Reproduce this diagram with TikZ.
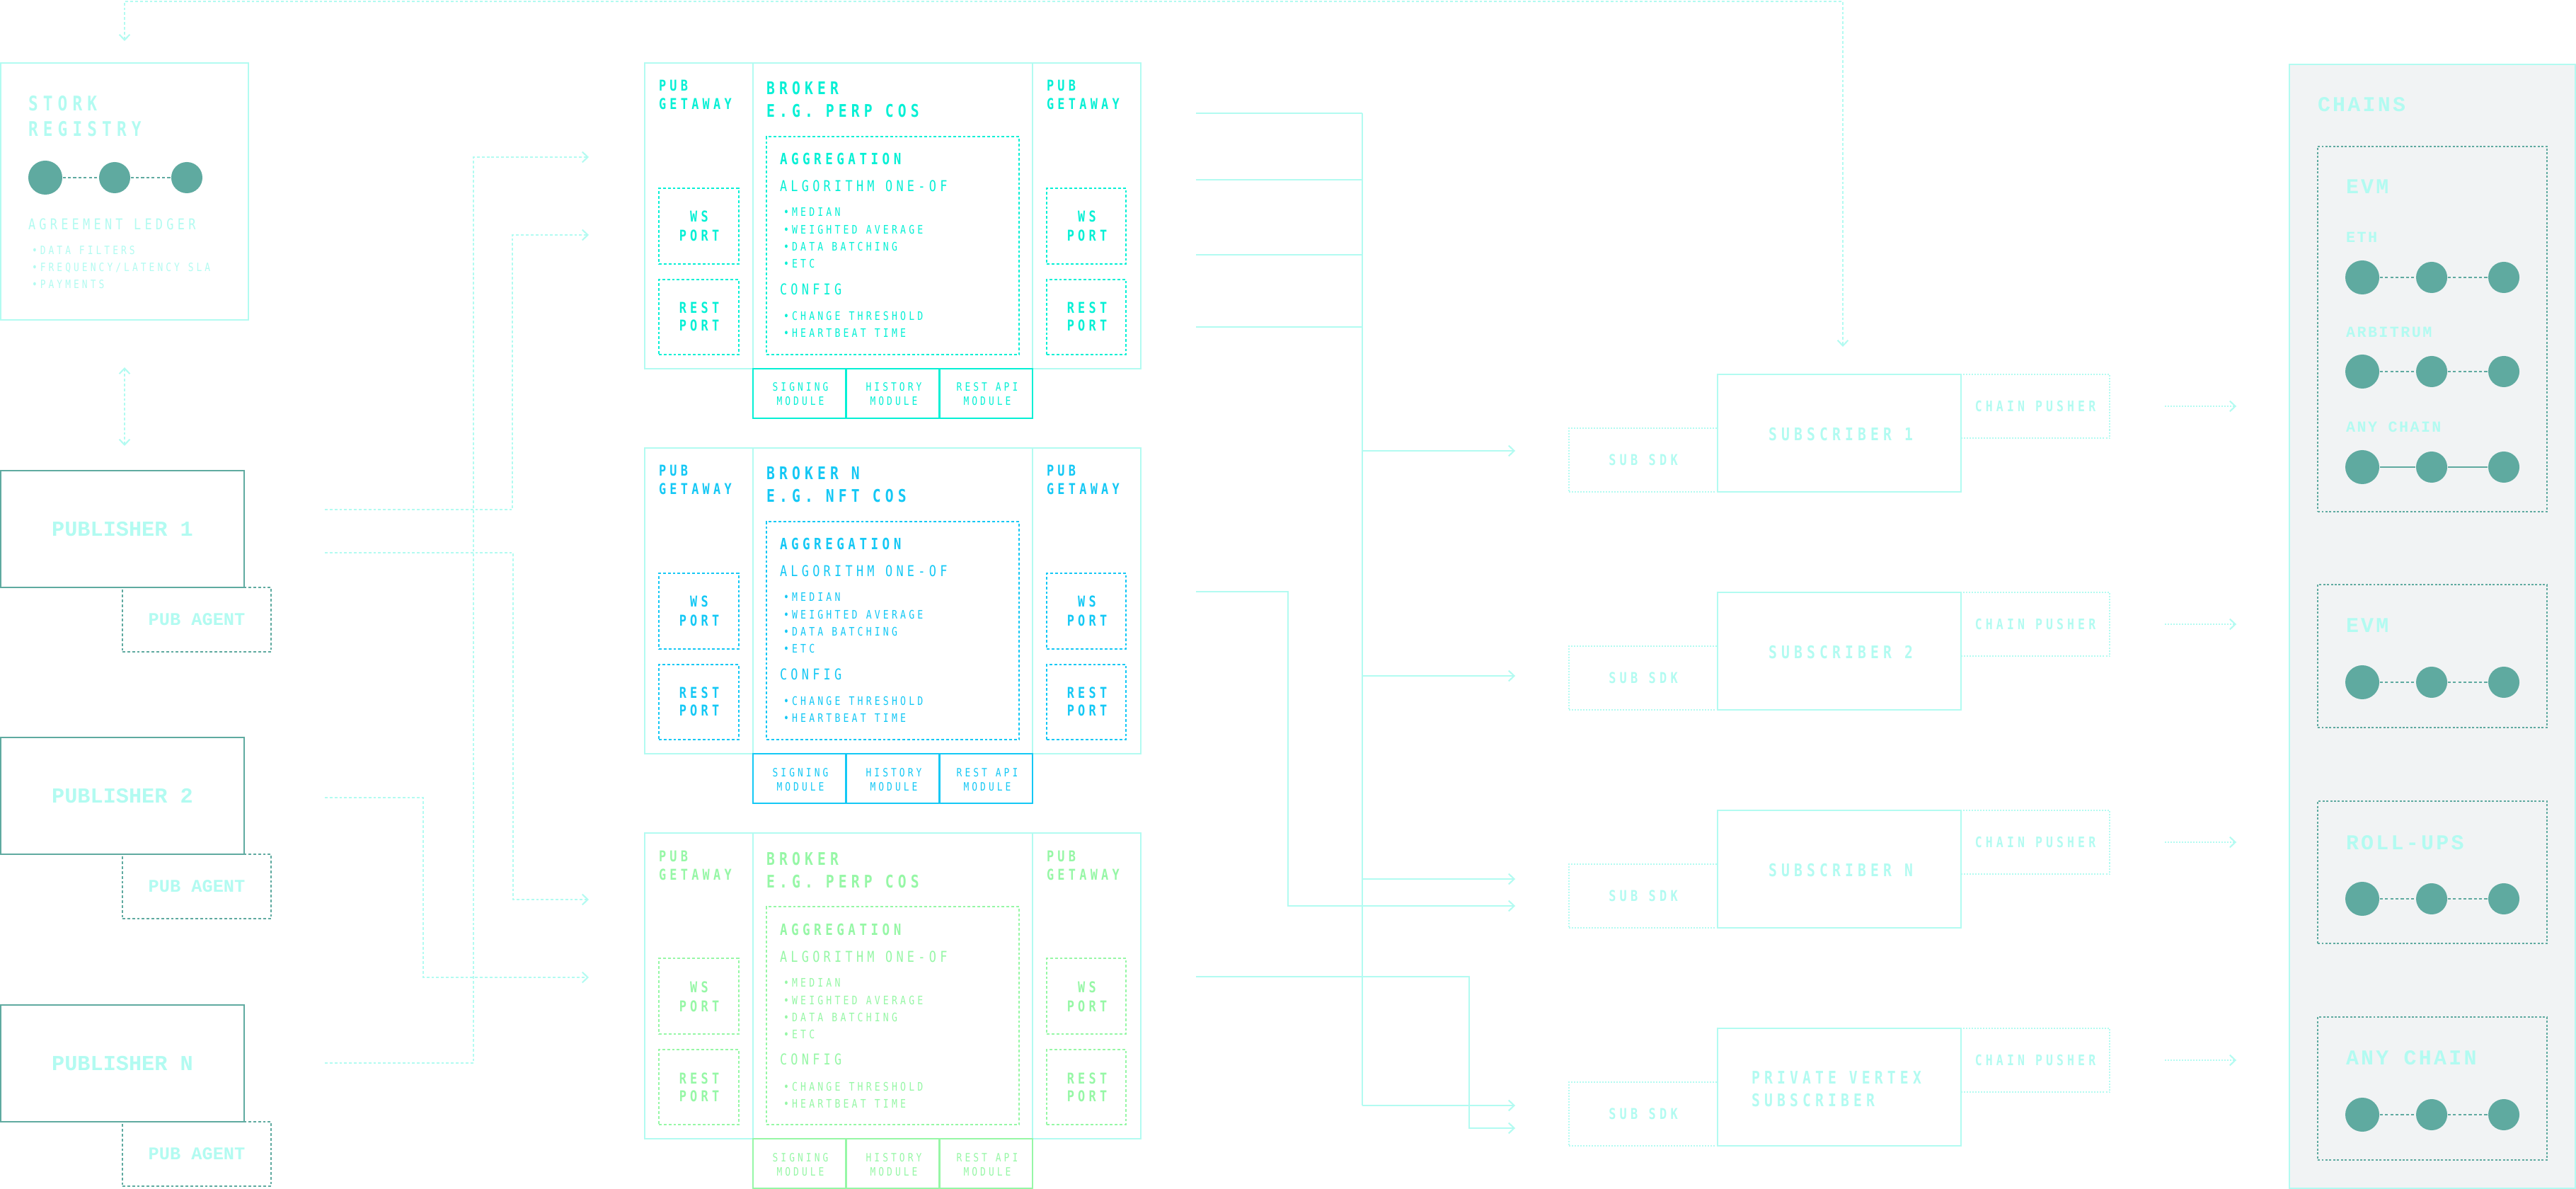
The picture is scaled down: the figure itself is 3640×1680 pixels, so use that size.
\documentclass[tikz,border=0pt]{standalone}
\usepackage{fontspec}
\usetikzlibrary{arrows.meta,fit}
\newfontfamily\cnd[FakeStretch=0.8,LetterSpace=25]{DejaVu Sans Mono}
\newfontfamily\wmono{Liberation Mono}
\newfontfamily\wmonols[LetterSpace=11]{Liberation Mono}
\newcommand\myfs[1]{\fontsize{#1}{#1}\selectfont}
\newcommand\bul{•\kern0.25em}
\definecolor{lc}{HTML}{B2FBF1}
\definecolor{tl}{HTML}{5FAAA0}
\definecolor{bA}{HTML}{05F0D5}
\definecolor{bB}{HTML}{14C8F5}
\definecolor{bC}{HTML}{96F7A6}
\definecolor{gp}{HTML}{F1F3F4}
\begin{document}
\begin{tikzpicture}[x=0.01cm,y=-0.01cm,
 bx/.style={draw=#1,line width=0.57pt,inner sep=0pt,outer sep=0pt},
 dbx/.style={bx=#1,dash pattern=on 1.1pt off 0.85pt},
 obx/.style={bx=#1,dash pattern=on 0.57pt off 0.57pt},
 tx/.style={inner sep=0pt,outer sep=0pt,anchor=base west,text=#1},
 tc/.style={inner sep=0pt,outer sep=0pt,anchor=base,text=#1},
 tm/.style={inner sep=0pt,outer sep=0pt,anchor=center,text=#1},
 wire/.style={draw=lc,line width=0.57pt},
 dwire/.style={wire,dash pattern=on 1.1pt off 0.85pt},
 owire/.style={wire,dash pattern=on 0.57pt off 0.57pt},
 arr/.style={-{Straight Barb[length=2.2pt,width=4.2pt]}},
 arrb/.style={{Straight Barb[length=2.2pt,width=4.2pt]}-{Straight Barb[length=2.2pt,width=4.2pt]}},
 chdot/.style={circle,fill=tl,inner sep=0pt,minimum size=#1},
 tlink/.style={draw=tl,line width=0.6pt,dash pattern=on 1.2pt off 0.9pt},
 tlinks/.style={draw=tl,line width=0.6pt},
 chbox/.style={draw=tl,line width=0.57pt,inner sep=0pt,dash pattern=on 0.85pt off 0.7pt},
]
\fill[white] (0,0) rectangle (3640,1680);
\useasboundingbox (0,0) rectangle (3640,1680);

% ---------------- registry ----------------
\node[bx=lc,fit={(1,89)(351,452)}] (reg) {};
\node[tx=lc,font=\cnd\bfseries\myfs{8.1}] (regt1) at (40,157) {STORK};
\node[tx=lc,font=\cnd\bfseries\myfs{8.1}] (regt2) at (40,193) {REGISTRY};
\node[chdot=0.48cm] (rc1) at (64,251) {};
\node[chdot=0.44cm] (rc2) at (162,251) {};
\node[chdot=0.44cm] (rc3) at (264,251) {};
\draw[tlink] (rc1) -- (rc2) -- (rc3);
\node[tx=lc,font=\cnd\myfs{6}] (regl) at (40,325) {AGREEMENT LEDGER};
\node[tx=lc,font=\cnd\myfs{4.6}] (regb1) at (45,360) {\bul DATA FILTERS};
\node[tx=lc,font=\cnd\myfs{4.6}] (regb2) at (45,384) {\bul FREQUENCY/LATENCY SLA};
\node[tx=lc,font=\cnd\myfs{4.6}] (regb3) at (45,408) {\bul PAYMENTS};

% top loop connector
\coordinate (tA) at (176,58);
\coordinate (tB) at (2604,490);
\draw[dwire,arrb] (tA) -- (176,2) -- (2604,2) -- (tB);
% registry <-> publisher
\coordinate (rpA) at (176,519);
\coordinate (rpB) at (176,630);
\draw[dwire,arrb] (rpA) -- (rpB);

% ---------------- publishers ----------------
\foreach \i/\T/\nm in {1/665/PUBLISHER 1,2/1042/PUBLISHER 2,3/1420/PUBLISHER N}{
  \node[dbx=tl,fit={(173,\T+165)(383,\T+256)}] (ag\i) {};
  \node[bx=tl,fit={(1,\T)(345,\T+165)}] (pub\i) {};
  \node[tm=lc,font=\wmono\bfseries\myfs{8.6}] (pubt\i) at (pub\i.center) {\nm};
  \node[tm=lc,font=\wmono\bfseries\myfs{7.2}] (agt\i) at (ag\i.center) {PUB AGENT};
}

% publisher -> broker connectors
\coordinate (q1s) at (459,720);  \coordinate (q1e) at (832,332);
\coordinate (q2s) at (459,781);  \coordinate (q2e) at (832,1271);
\coordinate (q3s) at (459,1127); \coordinate (q3e) at (832,1381);
\coordinate (q4s) at (459,1502); \coordinate (q4e) at (832,222);
\draw[dwire,arr] (q1s) -- (724,720) -- (724,332) -- (q1e);
\draw[dwire,arr] (q2s) -- (725,781) -- (725,1271) -- (q2e);
\draw[dwire,arr] (q3s) -- (598,1127) -- (598,1381) -- (q3e);
\draw[dwire,arr] (q4s) -- (669,1502) -- (669,222) -- (q4e);

% ---------------- brokers ----------------
\foreach \i/\dy/\col/\ta/\tb in {1/0/bA/BROKER/E.G. PERP COS,2/544/bB/BROKER N/E.G. NFT COS,3/1088/bC/BROKER/E.G. PERP COS}{
  \node[bx=lc,fit={(911,89+\dy)(1612,521+\dy)}] (br\i) {};
  \draw[lc,line width=0.57pt] (1064,89+\dy) -- (1064,521+\dy) (1459,89+\dy) -- (1459,521+\dy);
  \node[bx=\col,line width=0.8pt,fit={(1064,521+\dy)(1459,591+\dy)}] (mod\i) {};
  \draw[\col,line width=0.8pt] (1195.7,521+\dy) -- (1195.7,591+\dy) (1327.3,521+\dy) -- (1327.3,591+\dy);
  % gateways
  \node[tx=\col,font=\cnd\bfseries\myfs{6}] (pgla\i) at (931,129+\dy) {PUB};
  \node[tx=\col,font=\cnd\bfseries\myfs{6}] (pglb\i) at (931,155+\dy) {GETAWAY};
  \node[tx=\col,font=\cnd\bfseries\myfs{6}] (pgra\i) at (1479,129+\dy) {PUB};
  \node[tx=\col,font=\cnd\bfseries\myfs{6}] (pgrb\i) at (1479,155+\dy) {GETAWAY};
  % ports
  \node[dbx=\col,fit={(931,266+\dy)(1043.5,373+\dy)}] (wsl\i) {};
  \node[dbx=\col,fit={(931,395+\dy)(1043.5,501+\dy)}] (rsl\i) {};
  \node[dbx=\col,fit={(1479,266+\dy)(1591,373+\dy)}] (wsr\i) {};
  \node[dbx=\col,fit={(1479,395+\dy)(1591,501+\dy)}] (rsr\i) {};
  \node[tc=\col,font=\cnd\bfseries\myfs{6}] (wsla\i) at (988,314+\dy) {WS};
  \node[tc=\col,font=\cnd\bfseries\myfs{6}] (wslb\i) at (988,341+\dy) {PORT};
  \node[tc=\col,font=\cnd\bfseries\myfs{6}] (rsla\i) at (988,443+\dy) {REST};
  \node[tc=\col,font=\cnd\bfseries\myfs{6}] (rslb\i) at (988,468+\dy) {PORT};
  \node[tc=\col,font=\cnd\bfseries\myfs{6}] (wsra\i) at (1536,314+\dy) {WS};
  \node[tc=\col,font=\cnd\bfseries\myfs{6}] (wsrb\i) at (1536,341+\dy) {PORT};
  \node[tc=\col,font=\cnd\bfseries\myfs{6}] (rsra\i) at (1536,443+\dy) {REST};
  \node[tc=\col,font=\cnd\bfseries\myfs{6}] (rsrb\i) at (1536,468+\dy) {PORT};
  % title
  \node[tx=\col,font=\cnd\bfseries\myfs{7}] (bta\i) at (1083,134+\dy) {\ta};
  \node[tx=\col,font=\cnd\bfseries\myfs{7}] (btb\i) at (1083,166+\dy) {\tb};
  % aggregation
  \node[dbx=\col,fit={(1083,193+\dy)(1440,501+\dy)}] (agg\i) {};
  \node[tx=\col,font=\cnd\bfseries\myfs{6.25}] (agga\i) at (1102,233+\dy) {AGGREGATION};
  \node[tx=\col,font=\cnd\myfs{6}] (aggb\i) at (1102,271+\dy) {ALGORITHM ONE-OF};
  \node[tx=\col,font=\cnd\myfs{4.7}] (aggc\i) at (1107,306+\dy) {\bul MEDIAN};
  \node[tx=\col,font=\cnd\myfs{4.7}] (aggd\i) at (1107,331+\dy) {\bul WEIGHTED AVERAGE};
  \node[tx=\col,font=\cnd\myfs{4.7}] (agge\i) at (1107,355+\dy) {\bul DATA BATCHING};
  \node[tx=\col,font=\cnd\myfs{4.7}] (aggf\i) at (1107,379+\dy) {\bul ETC};
  \node[tx=\col,font=\cnd\myfs{6}] (aggg\i) at (1102,416.5+\dy) {CONFIG};
  \node[tx=\col,font=\cnd\myfs{4.7}] (aggh\i) at (1107,453+\dy) {\bul CHANGE THRESHOLD};
  \node[tx=\col,font=\cnd\myfs{4.7}] (aggi\i) at (1107,477+\dy) {\bul HEARTBEAT TIME};
  % modules
  \node[tc=\col,font=\cnd\myfs{4.6}] (mda\i) at (1131,553+\dy) {SIGNING};
  \node[tc=\col,font=\cnd\myfs{4.6}] (mdb\i) at (1131,573+\dy) {MODULE};
  \node[tc=\col,font=\cnd\myfs{4.6}] (mdc\i) at (1263,553+\dy) {HISTORY};
  \node[tc=\col,font=\cnd\myfs{4.6}] (mdd\i) at (1263,573+\dy) {MODULE};
  \node[tc=\col,font=\cnd\myfs{4.6}] (mde\i) at (1395,553+\dy) {REST API};
  \node[tc=\col,font=\cnd\myfs{4.6}] (mdf\i) at (1395,573+\dy) {MODULE};
}

% ---------------- broker -> subscriber wires ----------------
\coordinate (w1) at (1690,160);
\coordinate (w2) at (1690,254);
\coordinate (w3) at (1690,360);
\coordinate (w4) at (1690,462);
\draw[wire] (w1) -- (1925,160);
\draw[wire] (w2) -- (1925,254);
\draw[wire] (w3) -- (1925,360);
\draw[wire] (w4) -- (1925,462);
\draw[wire] (1925,160) -- (1925,1562);
\coordinate (e1) at (2141,637);
\coordinate (e2) at (2141,955);
\coordinate (e3) at (2141,1242);
\coordinate (e4) at (2141,1562);
\draw[wire,arr] (1925,637) -- (e1);
\draw[wire,arr] (1925,955) -- (e2);
\draw[wire,arr] (1925,1242) -- (e3);
\draw[wire,arr] (1925,1562) -- (e4);
\coordinate (w5) at (1690,836);
\coordinate (e5) at (2141,1280);
\draw[wire,arr] (w5) -- (1820,836) -- (1820,1280) -- (e5);
\coordinate (w6) at (1690,1380);
\coordinate (e6) at (2141,1594);
\draw[wire,arr] (w6) -- (2076,1380) -- (2076,1594) -- (e6);

% ---------------- subscribers ----------------
\foreach \j/\T in {1/529,2/837,3/1145,4/1453}{
  \node[obx=lc,fit={(2217,\T+76)(2427,\T+166)}] (sdk\j) {};
  \node[obx=lc,fit={(2771,\T)(2981,\T+90)}] (cp\j) {};
  \node[bx=lc,fit={(2427,\T)(2771,\T+166)}] (sub\j) {};
  \node[tm=lc,font=\cnd\bfseries\myfs{6}] (sdkt\j) at (sdk\j.center) {SUB SDK};
  \node[tm=lc,font=\cnd\bfseries\myfs{5.85}] (cpt\j) at (cp\j.center) {CHAIN PUSHER};
  \coordinate (cpa\j) at (3059,\T+45);
  \coordinate (cpb\j) at (3160,\T+45);
  \draw[owire,arr] (cpa\j) -- (cpb\j);
}
\node[tm=lc,font=\cnd\bfseries\myfs{7}] (subt1) at (2601,614) {SUBSCRIBER 1};
\node[tm=lc,font=\cnd\bfseries\myfs{7}] (subt2) at (2601,922) {SUBSCRIBER 2};
\node[tm=lc,font=\cnd\bfseries\myfs{7}] (subt3) at (2601,1230) {SUBSCRIBER N};
\node[tx=lc,font=\cnd\bfseries\myfs{7}] (subt4a) at (2475,1531) {PRIVATE VERTEX};
\node[tx=lc,font=\cnd\bfseries\myfs{7}] (subt4b) at (2475,1563) {SUBSCRIBER};

% ---------------- chains ----------------
\node[draw=lc,fill=gp,line width=0.57pt,inner sep=0pt,fit={(3235,91)(3639,1679)}] (chains) {};
\node[tx=lc,font=\wmonols\bfseries\myfs{8.5}] (cht) at (3275,158) {CHAINS};
\node[chbox,fit={(3275,207)(3599,723)}] (evm1) {};
\node[chbox,fit={(3275,826)(3599,1028)}] (evm2) {};
\node[chbox,fit={(3275,1132)(3599,1333)}] (rup) {};
\node[chbox,fit={(3275,1437)(3599,1639)}] (anyc) {};
\node[tx=lc,font=\wmonols\bfseries\myfs{8.5}] (evm1t) at (3315,274) {EVM};
\node[tx=lc,font=\wmonols\bfseries\myfs{6.2}] (etht) at (3315,343) {ETH};
\node[tx=lc,font=\wmonols\bfseries\myfs{6.2}] (arbt) at (3315,477) {ARBITRUM};
\node[tx=lc,font=\wmonols\bfseries\myfs{6.2}] (anyt) at (3315,611) {ANY CHAIN};
\node[tx=lc,font=\wmonols\bfseries\myfs{8.5}] (evm2t) at (3315,894) {EVM};
\node[tx=lc,font=\wmonols\bfseries\myfs{8.5}] (rupt) at (3315,1200) {ROLL-UPS};
\node[tx=lc,font=\wmonols\bfseries\myfs{8.5}] (anyct) at (3315,1504) {ANY CHAIN};
\foreach \k/\yy/\st in {1/392/tlink,2/525/tlink,3/660/tlinks,4/964/tlink,5/1270/tlink,6/1575/tlink}{
  \node[chdot=0.48cm] (ca\k) at (3338,\yy) {};
  \node[chdot=0.44cm] (cb\k) at (3436,\yy) {};
  \node[chdot=0.44cm] (cc\k) at (3538,\yy) {};
  \draw[\st] (ca\k) -- (cb\k) -- (cc\k);
}
\end{tikzpicture}
\end{document}
